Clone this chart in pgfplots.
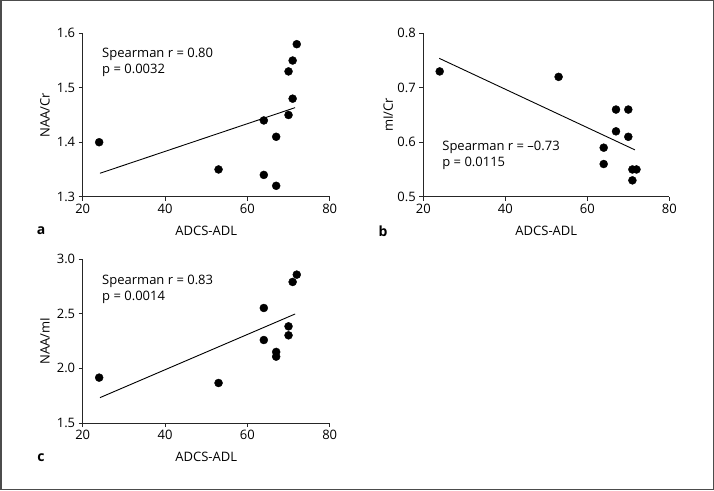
\documentclass[border=0pt]{standalone}
\usepackage{fontspec}
\setmainfont{Open Sans}
\usepackage{pgfplots}
\pgfplotsset{compat=1.18}
\pgfplotstableread{
x y
24 1.40
53 1.35
64 1.34
64 1.44
67 1.41
67 1.32
70 1.45
70 1.53
71 1.48
71 1.55
72 1.58
}\dataA
\pgfplotstableread{
x y
24 0.73
53 0.72
64 0.59
64 0.56
67 0.66
67 0.62
70 0.66
70 0.61
71 0.55
72 0.55
71 0.53
}\dataB
\pgfplotstableread{
x y
24 1.915
53 1.866
64 2.552
64 2.259
67 2.150
67 2.107
70 2.384
70 2.302
71 2.790
72 2.857
}\dataC
\newcommand\fs{\fontsize{13}{15}\selectfont}
\begin{document}
\begin{tikzpicture}[x=1pt,y=1pt]
\pgfplotsset{
  panel/.style={
    scale only axis, width=247pt, height=163.4pt,
    axis x line*=bottom, axis y line*=left,
    axis line style={-, line width=0.9pt, black!85},
    xmin=20, xmax=80, xtick={20,40,60,80},
    tick align=outside, major tick length=4pt,
    tick style={line width=0.9pt, black!85},
    ticklabel style={font=\fs},
    /pgf/number format/assume math mode=true,
    yticklabel style={/pgf/number format/.cd, fixed, fixed zerofill, precision=1},
    label style={font=\fs},
    xlabel={ADCS-ADL},
    xlabel style={at={([yshift=-34pt]axis description cs:0.5,0)}, anchor=center},
    clip=false,
  },
  pts/.style={only marks, mark=*, mark size=4pt, black, mark options={fill=black}},
  fitline/.style={black, line width=0.9pt, no marks},
}
\draw[black!70, line width=1.5pt] (0.75,0.75) rectangle (713.25,489.25);

% Panel a
\begin{axis}[panel, at={(82.7pt,293.3pt)}, anchor=south west,
  ymin=1.3, ymax=1.6, ytick={1.3,1.4,1.5,1.6},
  ylabel={NAA/Cr},
  ylabel style={at={([xshift=-37.7pt]axis description cs:0,0.5)}, anchor=center}]
  \addplot[fitline] coordinates {(24.2,1.343) (71.6,1.4635)};
  \addplot[pts] table {\dataA};
  \node[anchor=west, align=left, font=\fontsize{13}{16}\selectfont, inner sep=0pt] at (axis cs:24.7,1.546) {Spearman r = 0.80\\p = 0.0032};
\end{axis}

% Panel b
\begin{axis}[panel, width=246pt, at={(423.3pt,293.3pt)}, anchor=south west,
  ymin=0.5, ymax=0.8, ytick={0.5,0.6,0.7,0.8},
  ylabel={mI/Cr},
  ylabel style={at={([xshift=-35pt]axis description cs:0,0.5)}, anchor=center}]
  \addplot[fitline] coordinates {(23.9,0.754) (71.6,0.586)};
  \addplot[pts] table {\dataB};
  \node[anchor=west, align=left, font=\fontsize{13}{16}\selectfont, inner sep=0pt] at (axis cs:24.6,0.5756) {Spearman r = --0.73\\p = 0.0115};
\end{axis}

% Panel c
\begin{axis}[panel, height=164pt, at={(82.7pt,67pt)}, anchor=south west,
  ymin=1.5, ymax=3.0, ytick={1.5,2.0,2.5,3.0},
  ylabel={NAA/mI},
  ylabel style={at={([xshift=-37.7pt]axis description cs:0,0.5)}, anchor=center}]
  \addplot[fitline] coordinates {(24.2,1.732) (71.6,2.497)};
  \addplot[pts] table {\dataC};
  \node[anchor=west, align=left, font=\fontsize{13}{16}\selectfont, inner sep=0pt] at (axis cs:24.7,2.721) {Spearman r = 0.83\\p = 0.0014};
\end{axis}

\node[font=\fontsize{14}{15}\selectfont\bfseries] at (41,259) {a};
\node[font=\fontsize{14}{15}\selectfont\bfseries] at (383,259) {b};
\node[font=\fontsize{14}{15}\selectfont\bfseries] at (41,32) {c};
\end{tikzpicture}
\end{document}
